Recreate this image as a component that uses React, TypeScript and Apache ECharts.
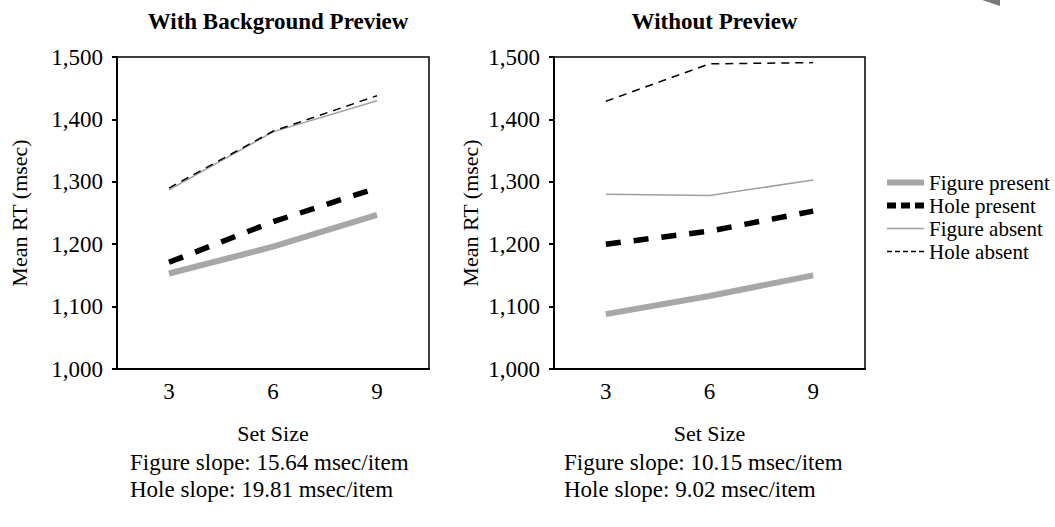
import React, { useEffect, useRef } from "react";
import * as echarts from "echarts";

const setSizes = ["3", "6", "9"];
const seriesNames = ["Figure present", "Hole present", "Figure absent", "Hole absent"];
const withFigurePresent = [1153, 1196, 1247];
const withHolePresent = [1171, 1236, 1290];
const withFigureAbsent = [1287, 1380, 1430];
const withHoleAbsent = [1290, 1381, 1438];
const withoutFigurePresent = [1088, 1117, 1150];
const withoutHolePresent = [1200, 1221, 1253];
const withoutFigureAbsent = [1280, 1278, 1303];
const withoutHoleAbsent = [1429, 1489, 1491];
const panelTitles = ["With Background Preview", "Without Preview"];
const slopeTexts = [
  ["Figure slope: 15.64 msec/item", "Hole slope: 19.81 msec/item"],
  ["Figure slope: 10.15 msec/item", "Hole slope: 9.02 msec/item"],
];

const FONT = "Liberation Serif";

const styles = [
  { color: "#a7a7a9", width: 6, type: "solid" as any, legendWidth: 6, legendType: "solid" as any },
  { color: "#000000", width: 5.5, type: [15, 13] as any, legendWidth: 6, legendType: [9, 5] as any },
  { color: "#a0a0a0", width: 1.5, type: "solid" as any, legendWidth: 1.5, legendType: "solid" as any },
  { color: "#000000", width: 1.5, type: [8, 6] as any, legendWidth: 1.5, legendType: [5, 3] as any },
];

export default function App() {
  const ref = useRef<HTMLDivElement>(null);
  useEffect(() => {
    if (!ref.current) return;
    const chart = echarts.init(ref.current, null, { renderer: "svg" });
    const panels = [
      [withFigurePresent, withHolePresent, withFigureAbsent, withHoleAbsent],
      [withoutFigurePresent, withoutHolePresent, withoutFigureAbsent, withoutHoleAbsent],
    ];
    const grids = [
      { left: 117, width: 312, top: 57, height: 312 },
      { left: 554, width: 311, top: 57, height: 312 },
    ];
    const nameGaps = [87, 73];
    const series: any[] = [];
    panels.forEach((p, gi) => {
      p.forEach((d, si) => {
        series.push({
          name: seriesNames[si],
          type: "line",
          xAxisIndex: gi,
          yAxisIndex: gi,
          data: d,
          symbol: "none",
          lineStyle: { color: styles[si].color, width: styles[si].width, type: styles[si].type, cap: "butt" },
          itemStyle: { color: styles[si].color },
          z: 3 + si,
        });
      });
    });
    const option: any = {
      animation: false,
      backgroundColor: "#ffffff",
      title: panelTitles.map((t, i) => ({
        text: t,
        left: grids[i].left + grids[i].width / 2,
        top: 5,
        textAlign: "center",
        textStyle: { fontFamily: FONT, fontWeight: "bold", fontSize: 23, color: "#000" },
      })),
      legend: {
        orient: "vertical",
        left: 879,
        top: 167,
        itemWidth: 37,
        itemHeight: 14,
        itemGap: 2,
        itemStyle: { opacity: 0 },
        data: seriesNames.map((n, i) => ({
          name: n,
          itemStyle: { opacity: 0 },
          lineStyle: { width: styles[i].legendWidth, type: styles[i].legendType, color: styles[i].color, cap: "butt" },
        })),
        textStyle: { fontFamily: FONT, fontSize: 21, color: "#000", lineHeight: 21 },
        selectedMode: false,
      },
      grid: grids.map((g) => ({ ...g, show: true, borderColor: "#000", borderWidth: 1.5, backgroundColor: "transparent" })),
      xAxis: grids.map((g, i) => ({
        type: "category",
        gridIndex: i,
        data: setSizes,
        boundaryGap: true,
        name: "Set Size",
        nameLocation: "middle",
        nameGap: 53,
        nameTextStyle: { fontFamily: FONT, fontSize: 22, color: "#000" },
        axisLine: { lineStyle: { color: "#000", width: 2 } },
        axisTick: { alignWithLabel: true, length: 5, lineStyle: { color: "#000", width: 2 } },
        axisLabel: { fontFamily: FONT, fontSize: 23, color: "#000", margin: 11 },
        splitLine: { show: false },
      })),
      yAxis: grids.map((g, i) => ({
        type: "value",
        gridIndex: i,
        min: 1000,
        max: 1500,
        interval: 100,
        name: "Mean RT (msec)",
        nameLocation: "middle",
        nameGap: nameGaps[i],
        nameTextStyle: { fontFamily: FONT, fontSize: 22, color: "#000" },
        axisLine: { show: true, lineStyle: { color: "#000", width: 2 } },
        axisTick: { show: true, length: 5, lineStyle: { color: "#000", width: 2 } },
        axisLabel: {
          fontFamily: FONT,
          fontSize: 23,
          color: "#000",
          margin: 14,
          formatter: (v: number) => v.toLocaleString("en-US"),
        },
        splitLine: { show: false },
      })),
      series,
      graphic: [
        ...slopeTexts.flatMap((lines, i) =>
          lines.map((t, j) => ({
            type: "text",
            left: i === 0 ? 130 : 564,
            top: 451 + j * 27,
            style: { text: t, fontFamily: FONT, fontSize: 23, fill: "#000" },
          }))
        ),
        {
          type: "polygon",
          shape: { points: [[982, 0], [1000, 0], [1000, 6]] },
          style: { fill: "#7a7a7a" },
        },
      ],
    };
    chart.setOption(option);
    return () => chart.dispose();
  }, []);
  return <div ref={ref} style={{ width: 1055, height: 527, position: "absolute", left: 0, top: 0 }} />;
}
